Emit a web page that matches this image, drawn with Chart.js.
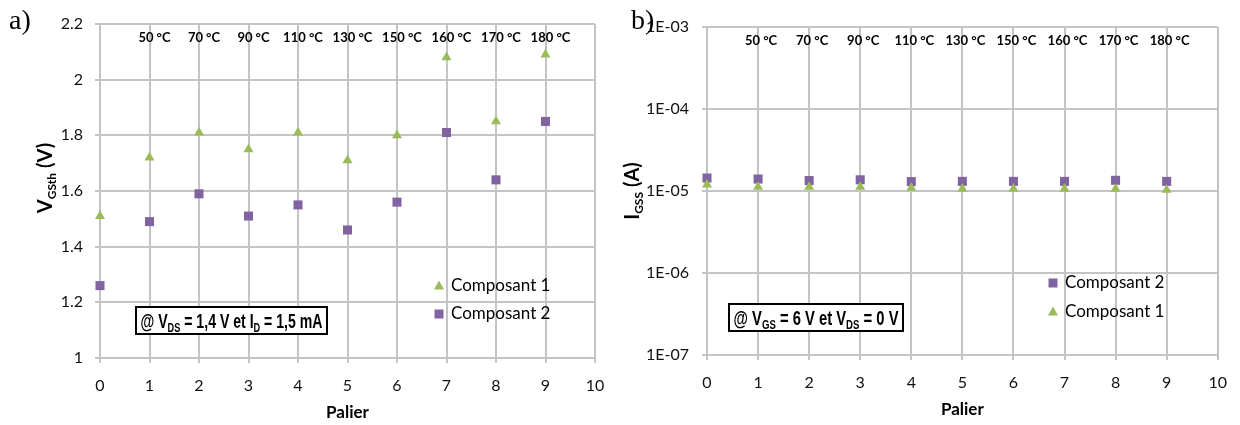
<!DOCTYPE html>
<html lang="fr">
<head>
<meta charset="UTF-8">
<title>VGSth et IGSS par palier</title>
<script src="https://cdn.jsdelivr.net/npm/chart.js"></script>
<style>
  body { margin: 0; background: #fff; }
  .panel { position: absolute; top: 0; width: 620px; height: 425px; }
  #panel-a { left: 0; }
  #panel-b { left: 620px; }
</style>
</head>
<body>
<div class="panel" id="panel-a"><canvas id="chart-a" width="620" height="425"></canvas></div>
<div class="panel" id="panel-b"><canvas id="chart-b" width="620" height="425"></canvas></div>
<script>
// data
const paliers = [0, 1, 2, 3, 4, 5, 6, 7, 8, 9];
const tempPaliers = [1, 2, 3, 4, 5, 6, 7, 8, 9];
const tempLabels = ['50 °C', '70 °C', '90 °C', '110 °C', '130 °C', '150 °C', '160 °C', '170 °C', '180 °C'];

const vgsthComp1 = [1.51, 1.72, 1.81, 1.75, 1.81, 1.71, 1.80, 2.08, 1.85, 2.09];
const vgsthComp2 = [1.26, 1.49, 1.59, 1.51, 1.55, 1.46, 1.56, 1.81, 1.64, 1.85];

const igssComp1 = [1.20e-5, 1.12e-5, 1.12e-5, 1.12e-5, 1.09e-5, 1.06e-5, 1.06e-5, 1.06e-5, 1.06e-5, 1.03e-5];
const igssComp2 = [1.44e-5, 1.40e-5, 1.34e-5, 1.37e-5, 1.30e-5, 1.31e-5, 1.31e-5, 1.31e-5, 1.35e-5, 1.31e-5];

const xTicks = [0, 1, 2, 3, 4, 5, 6, 7, 8, 9, 10];
const vgsthTicks = [1, 1.2, 1.4, 1.6, 1.8, 2, 2.2];
const igssTicks = [1e-7, 1e-6, 1e-5, 1e-4, 1e-3];

const PURPLE = '#8064A2';
const GREEN = '#9BBB59';
const GRID = '#c4c4c4';
const TICK_FONT = { family: 'Lato', size: 16 };

const pts = (xs, ys) => xs.map((x, i) => ({ x: x, y: ys[i] }));

// text with subscripts, optionally squeezed to a given width
function drawRich(ctx, segs, x, y, size, subSize, family, fitW) {
    const main = 'bold ' + size + 'px ' + family;
    const sub = 'bold ' + subSize + 'px ' + family;
    let w = 0;
    segs.forEach(([t, s]) => { ctx.font = s ? sub : main; w += ctx.measureText(t).width; });
    const k = fitW ? fitW / w : 1;
    ctx.save();
    ctx.translate(x, y);
    ctx.scale(k, 1);
    ctx.textAlign = 'left';
    ctx.textBaseline = 'alphabetic';
    let cx = -w / 2;
    segs.forEach(([t, s]) => {
        ctx.font = s ? sub : main;
        ctx.fillText(t, cx, s ? size * 0.22 : 0);
        cx += ctx.measureText(t).width;
    });
    ctx.restore();
}

function marker(ctx, style, x, y, color) {
    ctx.fillStyle = color;
    ctx.beginPath();
    if (style === 'rect') {
        ctx.rect(x - 4.5, y - 4.5, 9, 9);
    } else {
        ctx.moveTo(x, y - 5.5);
        ctx.lineTo(x + 5, y + 3.5);
        ctx.lineTo(x - 5, y + 3.5);
        ctx.closePath();
    }
    ctx.fill();
}

// panel letter, axis titles, temperatures, legend and test-condition box
const decor = {
    id: 'decor',
    afterDraw(chart, args, o) {
        const ctx = chart.ctx, xs = chart.scales.x, area = chart.chartArea;
        ctx.save();
        ctx.fillStyle = '#000';

        ctx.font = '28px "Liberation Serif"';
        ctx.textAlign = 'left';
        ctx.textBaseline = 'middle';
        ctx.fillText(o.panel, o.panelX, o.panelY);

        ctx.font = 'bold 13px Lato';
        ctx.textAlign = 'center';
        tempLabels.forEach((t, i) => {
            ctx.fillText(t, xs.getPixelForValue(tempPaliers[i]) + o.tempDx, o.tempY);
        });

        ctx.font = 'bold 17px Lato';
        ctx.fillText('Palier', (area.left + area.right) / 2, o.xTitleY);

        ctx.save();
        ctx.translate(o.yTitleX, o.yTitleY);
        ctx.rotate(-Math.PI / 2);
        drawRich(ctx, o.yTitle, 0, 7, 20, 12, 'Lato');
        ctx.restore();

        const b = o.box;
        ctx.fillStyle = '#fff';
        ctx.fillRect(b.x, b.y, b.w, b.h);
        ctx.lineWidth = 2;
        ctx.strokeStyle = '#000';
        ctx.strokeRect(b.x, b.y, b.w, b.h);
        ctx.fillStyle = '#000';
        drawRich(ctx, o.note, b.x + b.w / 2, b.y + b.h / 2 + 7, 20, 13,
            '"Liberation Sans Narrow", "Liberation Sans"', b.w - 9);

        ctx.font = '17px Lato';
        ctx.textAlign = 'left';
        ctx.textBaseline = 'middle';
        o.legendOrder.forEach((di, k) => {
            const ds = chart.data.datasets[di];
            const y = o.legendY + k * o.legendGap;
            marker(ctx, ds.pointStyle, o.legendX, y, ds.backgroundColor);
            ctx.fillStyle = '#000';
            ctx.fillText(ds.label, o.legendX + 12, y);
        });
        ctx.restore();
    }
};

function makeOptions(cfg) {
    return {
        responsive: false,
        animation: false,
        devicePixelRatio: 1,
        layout: { padding: cfg.padding },
        plugins: { legend: { display: false }, tooltip: { enabled: false }, decor: cfg.decor },
        scales: {
            x: {
                type: 'linear', min: 0, max: 10,
                afterBuildTicks: s => { s.ticks = xTicks.map(v => ({ value: v })); },
                afterFit: s => { s.height = cfg.xHeight; },
                grid: { color: GRID, lineWidth: 2, tickLength: 5 },
                border: { color: GRID, width: 2 },
                ticks: { font: TICK_FONT, color: '#111', padding: 13, maxRotation: 0 }
            },
            y: {
                type: cfg.yType, min: cfg.yTicks[0], max: cfg.yTicks[cfg.yTicks.length - 1],
                afterBuildTicks: s => { s.ticks = cfg.yTicks.map(v => ({ value: v })); },
                afterFit: s => { s.width = cfg.yWidth; },
                grid: { color: GRID, lineWidth: 2, tickLength: 5 },
                border: { color: GRID, width: 2 },
                ticks: { font: TICK_FONT, color: '#111', padding: cfg.yPad, callback: cfg.yFormat }
            }
        }
    };
}

new Chart(document.getElementById('chart-a'), {
    type: 'scatter',
    data: {
        datasets: [
            { label: 'Composant 1', data: pts(paliers, vgsthComp1), pointStyle: 'triangle',
              pointRadius: 5.8, backgroundColor: GREEN, borderWidth: 0, clip: false },
            { label: 'Composant 2', data: pts(paliers, vgsthComp2), pointStyle: 'rect',
              pointRadius: 6.4, backgroundColor: PURPLE, borderWidth: 0, clip: false }
        ]
    },
    options: makeOptions({
        padding: { left: 0, right: 25, top: 24, bottom: 0 },
        xHeight: 67, yWidth: 100, yPad: 12, yType: 'linear', yTicks: vgsthTicks,
        yFormat: v => String(+v.toFixed(1)),
        decor: {
            panel: 'a)', panelX: 9, panelY: 22,
            tempDx: 5, tempY: 38, xTitleY: 413,
            yTitleX: 45, yTitleY: 178,
            yTitle: [['V', false], ['GSth', true], [' (V)', false]],
            box: { x: 136, y: 307, w: 191, h: 27 },
            note: [['@ V', false], ['DS', true], [' = 1,4 V et I', false], ['D', true], [' = 1,5 mA', false]],
            legendOrder: [0, 1], legendX: 439, legendY: 286, legendGap: 28
        }
    }),
    plugins: [decor]
});

new Chart(document.getElementById('chart-b'), {
    type: 'scatter',
    data: {
        datasets: [
            { label: 'Composant 1', data: pts(paliers, igssComp1), pointStyle: 'triangle',
              pointRadius: 5.8, backgroundColor: GREEN, borderWidth: 0, clip: false },
            { label: 'Composant 2', data: pts(paliers, igssComp2), pointStyle: 'rect',
              pointRadius: 6.4, backgroundColor: PURPLE, borderWidth: 0, clip: false }
        ]
    },
    options: makeOptions({
        padding: { left: 0, right: 21, top: 27, bottom: 0 },
        xHeight: 70, yWidth: 87, yPad: 13, yType: 'logarithmic', yTicks: igssTicks,
        yFormat: v => {
            const e = Math.round(Math.log10(v));
            return '1E' + (e < 0 ? '-' : '+') + String(Math.abs(e)).padStart(2, '0');
        },
        decor: {
            panel: 'b)', panelX: 11, panelY: 22,
            tempDx: 3, tempY: 41, xTitleY: 410,
            yTitleX: 12, yTitleY: 191,
            yTitle: [['I', false], ['GSS', true], [' (A)', false]],
            box: { x: 109, y: 304, w: 174, h: 27 },
            note: [['@ V', false], ['GS', true], [' = 6 V et V', false], ['DS', true], [' = 0 V', false]],
            legendOrder: [1, 0], legendX: 433, legendY: 283, legendGap: 29
        }
    }),
    plugins: [decor]
});
</script>
</body>
</html>
